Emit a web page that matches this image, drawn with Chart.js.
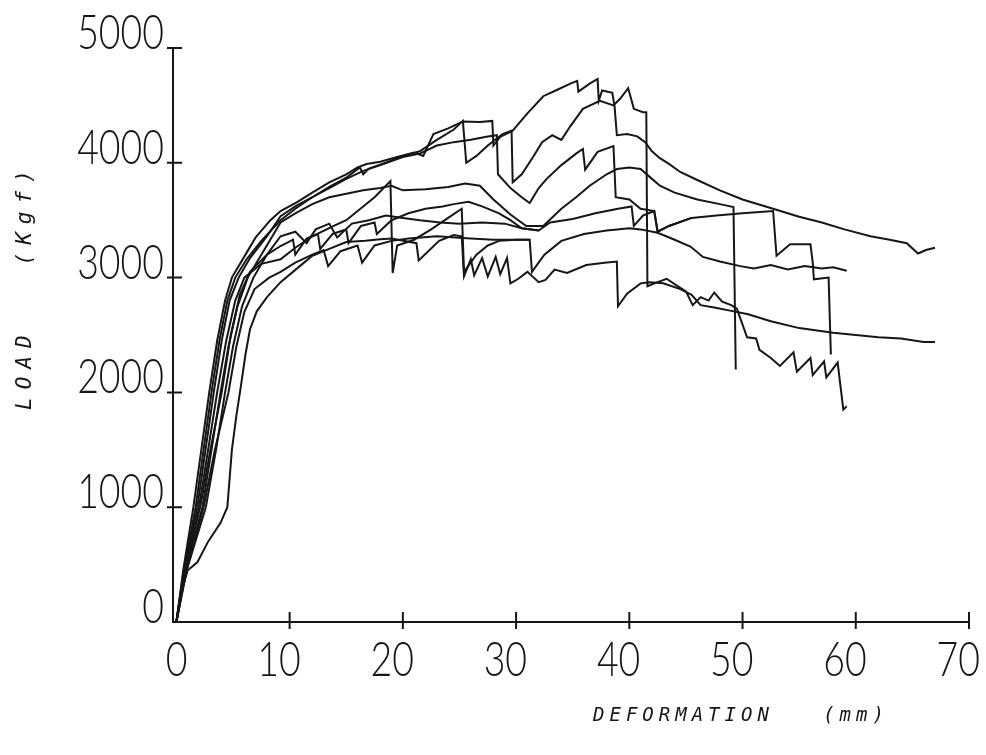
<!DOCTYPE html>
<html>
<head>
<meta charset="utf-8">
<title>Load - deformation</title>
<script src="https://cdn.jsdelivr.net/npm/chart.js@4/dist/chart.umd.min.js"></script>
<style>
  html, body { margin: 0; padding: 0; background: #fff; }
  canvas { display: block; }
</style>
</head>
<body>
<canvas id="chart" width="986" height="755"></canvas>
<script>
// ticks
const xTicks = [0, 10, 20, 30, 40, 50, 60, 70];
const yTicks = [0, 1000, 2000, 3000, 4000, 5000];
const xTitle = "DEFORMATION   (mm)";
const yTitle = "LOAD   (Kgf)";

// curves, [deformation mm, load kgf]
const specA = [[0,0],[0.6,450],[1.5,1000],[2.2,1500],[2.9,2000],[3.6,2450],[4.3,2800],[4.9,3000],[5.8,3150],[7,3350],[8.3,3500],[9.2,3580],[10.7,3660],[12,3740],[13.5,3830],[15,3900],[16,3960],[16.8,3990],[18,4010],[19.5,4050],[21,4090],[21.8,4060],[22.7,4250],[24,4300],[25.3,4360],[26.8,4356],[27.9,4365],[28,4150],[28.6,4225],[29.7,4280],[31,4430],[32.4,4580],[33.5,4630],[34.8,4690],[35.4,4714],[35.5,4620],[36.5,4690],[37.2,4730],[37.3,4540],[37.6,4630],[38.5,4610],[38.7,4490],[38.9,4240],[39.8,4250],[40.7,4230],[41.4,4180],[42,4100],[42.7,4040],[43.5,3990],[44.5,3920],[46,3850],[48,3760],[50,3680],[52.7,3600],[55,3530],[57,3480],[59,3420],[61.3,3360],[63,3330],[64.5,3300],[65.5,3210],[66.2,3240],[67,3260]];
const specB = [[0,0],[0.7,450],[1.85,1000],[2.5,1450],[3.3,2000],[4,2450],[4.7,2800],[5.5,3000],[6.5,3170],[8,3360],[9.2,3535],[10.5,3620],[12,3700],[13.5,3790],[15,3870],[16.2,3960],[16.5,3900],[17,3950],[18.5,4000],[20,4060],[21.5,4100],[23,4200],[24.5,4290],[25.3,4365],[25.6,4000],[26.5,4060],[27.5,4150],[28.8,4250],[29.6,4280],[29.7,3830],[30.5,3900],[31.5,4050],[32.3,4180],[33.2,4240],[34,4200],[34.8,4320],[35.9,4470],[37.4,4540],[38.6,4500],[39.2,4560],[39.9,4650],[40.4,4470],[41.2,4440],[41.5,4440],[41.6,2925],[42.5,2960],[43.3,2990],[44.2,2930],[45,2880],[45.6,2760],[46.3,2830],[47,2800],[47.5,2870],[48.2,2790],[49,2760],[49.5,2730],[50.4,2480],[51.2,2470],[51.5,2370],[52.5,2300],[53.3,2230],[54.5,2350],[54.8,2180],[56,2300],[56.2,2150],[57.2,2270],[57.4,2130],[58.4,2260],[58.9,1850],[59.2,1880]];
const specC = [[0,0],[0.8,450],[2.3,1000],[3.1,1500],[3.9,2000],[4.6,2400],[5.4,2750],[6.3,3000],[7.5,3200],[9.2,3480],[10.5,3560],[12,3640],[13.5,3700],[15,3730],[16.5,3760],[18,3780],[19,3800],[20,3760],[22,3770],[24,3790],[25.5,3820],[26.8,3800],[28,3680],[29.5,3550],[30.9,3450],[32.4,3450],[34,3600],[35.3,3700],[36.5,3800],[38,3900],[38.9,3946],[40,3960],[41,3946],[42,3860],[42.7,3800],[44,3740],[46,3680],[48,3640],[49.2,3614],[49.4,2200]];
const specD = [[0,0],[0.9,450],[2.6,1000],[3.5,1500],[4.3,2000],[5.0,2400],[5.8,2750],[6.8,3000],[8,3200],[9.2,3360],[10.5,3400],[11.5,3300],[12.3,3420],[13.5,3470],[14.2,3350],[15.5,3470],[17,3500],[18.5,3540],[20,3520],[21.5,3500],[23.3,3480],[25,3470],[27,3480],[29,3470],[30.5,3430],[32,3410],[33,3480],[35,3510],[37,3560],[39,3600],[40.2,3620],[40.4,3450],[41.2,3540],[42.2,3580],[42.5,3400],[43.5,3450],[45.5,3520],[47.7,3540],[50,3560],[52.7,3580],[53,3190],[54.2,3290],[56,3290],[56.2,3130],[56.3,2985],[57.6,3000],[57.8,2330]];
const specE = [[0,0],[0.9,450],[2.4,1000],[3.4,1500],[4.6,2000],[5.3,2400],[6,2700],[6.9,2900],[8.2,3000],[9.2,3050],[10.5,3130],[12,3200],[13,3240],[13.4,3100],[14.5,3230],[16,3280],[16.4,3130],[17.5,3280],[19,3320],[20.5,3340],[23,3360],[26,3340],[28,3330],[30,3330],[31.2,3330],[31.4,3050],[32.5,3200],[34,3320],[36,3380],[38,3410],[40,3430],[41,3420],[42.5,3390],[44,3330],[45.4,3270],[46.5,3180],[48,3140],[49.8,3100],[51,3080],[52.5,3110],[54,3070],[55.5,3100],[57,3080],[58,3090],[59.2,3060]];
const specF = [[0,0],[0.8,450],[2.0,1000],[2.8,1500],[3.6,2000],[4.4,2450],[5.2,2800],[6,3000],[7.5,3120],[9.2,3160],[10.5,3260],[12,3360],[13.9,3450],[15,3500],[16.5,3620],[17.5,3700],[18.9,3840],[19.1,3040],[19.5,3280],[21,3330],[22.5,3420],[24,3520],[25.2,3600],[25.4,3050],[26.5,3200],[27.5,3280],[28.5,3320],[30,3330],[31.2,3330]];
const specG = [[0,0],[0.4,250],[1,450],[1.85,520],[2.8,700],[3.9,864],[4.5,1000],[4.9,1500],[5.3,1800],[5.65,2025],[6.1,2330],[6.5,2550],[7.1,2706],[8,2830],[9.2,2960],[10.9,3100],[12,3190],[13.5,3250],[15,3310],[16.7,3320],[18,3335],[19,3340],[21.2,3300],[21.4,3150],[23.2,3320],[24.5,3370],[25.2,3360],[25.4,3010],[26,3160],[26.3,3020],[27,3170],[27.5,3010],[28.2,3180],[28.6,3030],[29.2,3170],[29.5,2950],[30.2,2990],[31,3050],[32,2960],[32.6,2980],[33.4,3070],[34.5,3040],[36.2,3110],[37.8,3130],[38.9,3140],[39,2750],[39.8,2860],[41,2950],[41.8,2960],[43,2950],[44.5,2900],[45.5,2850],[46.3,2760],[47.5,2740],[49,2710],[50.5,2680],[52.5,2620],[55,2560],[58,2520],[60,2500],[62,2480],[64,2470],[66,2440],[67,2440]];
const specH = [[0,0],[0.65,450],[1.7,1000],[2.4,1500],[3.1,2000],[3.8,2450],[4.5,2800],[5.2,3000],[6.2,3160],[7.5,3320],[9.2,3500],[10.5,3600],[12,3700],[13.5,3780],[15,3860],[16.5,3930],[18,3980],[20,4050],[21.5,4080],[23,4150],[24.5,4180],[26,4200],[27.5,4230],[28.3,4240],[28.4,3900],[29.5,3780],[30.5,3700],[31.2,3650],[32,3780],[32.7,3860],[34,3980],[35.3,4080],[35.9,4120],[36.1,3940],[37.2,4095],[38.6,4146],[38.8,3700],[40,3680],[41,3600],[42.2,3580],[42.5,3400],[43.5,3450],[45.5,3520]];
const specI = [[0,0],[0.7,450],[2.1,1000],[3,1500],[4.0,2000],[4.8,2500],[5.6,2850],[6.5,3050],[8,3200],[9.2,3275],[10.3,3330],[10.5,3200],[11.5,3340],[12.5,3380],[12.7,3250],[13.8,3380],[15,3420],[15.2,3300],[16.3,3450],[17.5,3480],[17.7,3380],[19,3500],[20.5,3560],[22,3600],[23.5,3620],[24.5,3640],[25.8,3660],[27,3620],[28.5,3560],[29.5,3500],[30.5,3430],[32,3410]];

const curves = [specA, specB, specC, specD, specE, specF, specG, specH, specI];

const inkColor = "#161616";

// axes, ticks, labels and titles drawn off the chart's own scales
const axisPainter = {
  id: "axisPainter",
  afterDraw(chart) {
    const { ctx, scales: { x, y } } = chart;
    const xl = x.getPixelForValue(x.min);
    const xr = x.getPixelForValue(70);
    const yb = y.getPixelForValue(0);
    const yt = y.getPixelForValue(5000);

    ctx.save();
    ctx.strokeStyle = inkColor;
    ctx.lineWidth = 2;
    ctx.beginPath();
    ctx.moveTo(xl, yt);
    ctx.lineTo(xl, yb);
    ctx.lineTo(xr, yb);
    ctx.stroke();

    // tick marks cross the axis
    ctx.beginPath();
    yTicks.forEach(v => {
      const py = y.getPixelForValue(v);
      if (v > 0) { ctx.moveTo(xl - 6, py); ctx.lineTo(xl + 9, py); }
    });
    xTicks.forEach(v => {
      const px = x.getPixelForValue(v);
      if (v > 0) { ctx.moveTo(px, yb - 10); ctx.lineTo(px, yb + 7); }
    });
    ctx.stroke();

    // narrow, tall tick numbers
    ctx.fillStyle = inkColor;
    ctx.font = "300 48px Lato";
    ctx.textBaseline = "alphabetic";
    ctx.textAlign = "right";
    yTicks.forEach(v => {
      const py = y.getPixelForValue(v);
      ctx.save();
      ctx.translate(xl - 9, py + 1);
      ctx.scale(0.78, 1);
      ctx.fillText(String(v), 0, 0);
      ctx.restore();
    });
    xTicks.forEach(v => {
      const px = x.getPixelForValue(v);
      ctx.save();
      ctx.translate(px + 11, yb + 54);
      ctx.scale(0.78, 1);
      ctx.fillText(String(v), 0, 0);
      ctx.restore();
    });

    // axis titles
    ctx.textAlign = "left";
    ctx.textBaseline = "middle";
    ctx.font = "italic 19px 'DejaVu Sans Mono'";
    ctx.letterSpacing = "5px";
    ctx.fillText(xTitle, 593, 716);
    ctx.font = "italic 21px 'DejaVu Sans Mono'";
    ctx.letterSpacing = "8px";
    ctx.save();
    ctx.translate(26, 410);
    ctx.rotate(-Math.PI / 2);
    ctx.fillText(yTitle, 0, 0);
    ctx.restore();
    ctx.restore();
  }
};

const ctx = document.getElementById("chart").getContext("2d");
const chart = new Chart(ctx, {
  type: "scatter",
  data: {
    datasets: curves.map((pts, i) => ({
      label: "Specimen " + (i + 1),
      data: pts.map(p => ({ x: p[0], y: p[1] })),
      showLine: true,
      borderColor: inkColor,
      borderWidth: 2,
      pointRadius: 0,
      tension: 0,
      fill: false
    }))
  },
  options: {
    responsive: false,
    animation: false,
    layout: { padding: { left: 0, right: 17, top: 48, bottom: 0 } },
    plugins: {
      legend: { display: false },
      tooltip: { enabled: false }
    },
    scales: {
      x: {
        type: "linear",
        min: -0.3,
        max: 70,
        grid: { display: false },
        border: { display: false },
        ticks: { display: false },
        afterFit(scale) { scale.height = 133; }
      },
      y: {
        min: 0,
        max: 5000,
        grid: { display: false },
        border: { display: false },
        ticks: { display: false },
        afterFit(scale) { scale.width = 173; }
      }
    }
  },
  plugins: [axisPainter]
});
</script>
</body>
</html>
